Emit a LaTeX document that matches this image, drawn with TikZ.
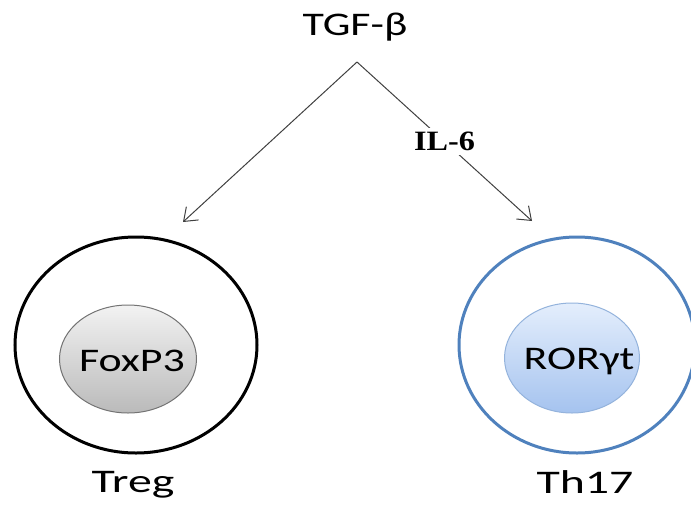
\documentclass[tikz,border=0pt]{standalone}
\usepackage{fontspec}
\setmainfont{Carlito}
\newfontfamily\labelfont[FakeStretch=1.33]{Carlito}
\newfontfamily\celllabelfont[FakeStretch=1.45]{Carlito}
\newfontfamily\cytofont[FakeStretch=1.15]{Liberation Serif}
\usetikzlibrary{arrows.meta,positioning,shapes.geometric}
\definecolor{thblue}{HTML}{4F81BD}
\definecolor{rorborder}{HTML}{94B3DC}
\definecolor{rortop}{HTML}{E4EEFC}
\definecolor{rorbottom}{HTML}{A5C3EF}

\begin{document}
\begin{tikzpicture}[
  x=0.5pt, y=-0.5pt,
  lbl/.style={font=\fontsize{16.5}{19}\selectfont\labelfont, inner sep=0pt},
  celllbl/.style={font=\fontsize{16.5}{19}\selectfont\celllabelfont, inner sep=0pt, anchor=base},
  cell/.style={draw, ellipse, line width=1.5pt, minimum width=121pt, minimum height=108pt},
  tf/.style={draw, ellipse, line width=0.5pt, inner sep=0pt},
  arr/.style={-{Straight Barb[length=6pt, width=9pt]}, line width=0.5pt, draw=black!75}
]
\useasboundingbox (0,0) rectangle (691,509);
\node[lbl] (tgf) at (355,27) {TGF-β};
\coordinate (split) at (357,62);
\coordinate (tregtip) at (183,222);
\coordinate (thtip) at (532,221);
% T cells
\node[cell] (treg) at (136,345) {};
\node[tf, draw=black!55, top color=black!5, bottom color=black!27, minimum width=68.5pt, minimum height=54pt] (foxp3) at (128,359) {};
\node[lbl] (foxp3text) at (132,361) {FoxP3};
\node[cell, draw=thblue, minimum width=118pt] (th17) at (577,345) {};
\node[tf, draw=rorborder, top color=rortop, bottom color=rorbottom, minimum width=67.5pt, minimum height=55pt] (ror) at (572,358) {};
\node[lbl] (rortext) at (579,361) {RORγt};
\node[celllbl] (treglabel) at (133,492) {Treg};
\node[celllbl] (th17label) at (585,493) {Th17};
% arrows
\draw[arr] (split) -- (tregtip);
\draw[arr] (split) -- node[fill=white, inner sep=2pt, font=\fontsize{14}{16}\selectfont\cytofont\bfseries] (il6) {IL-6} (thtip);
\end{tikzpicture}
\end{document}
